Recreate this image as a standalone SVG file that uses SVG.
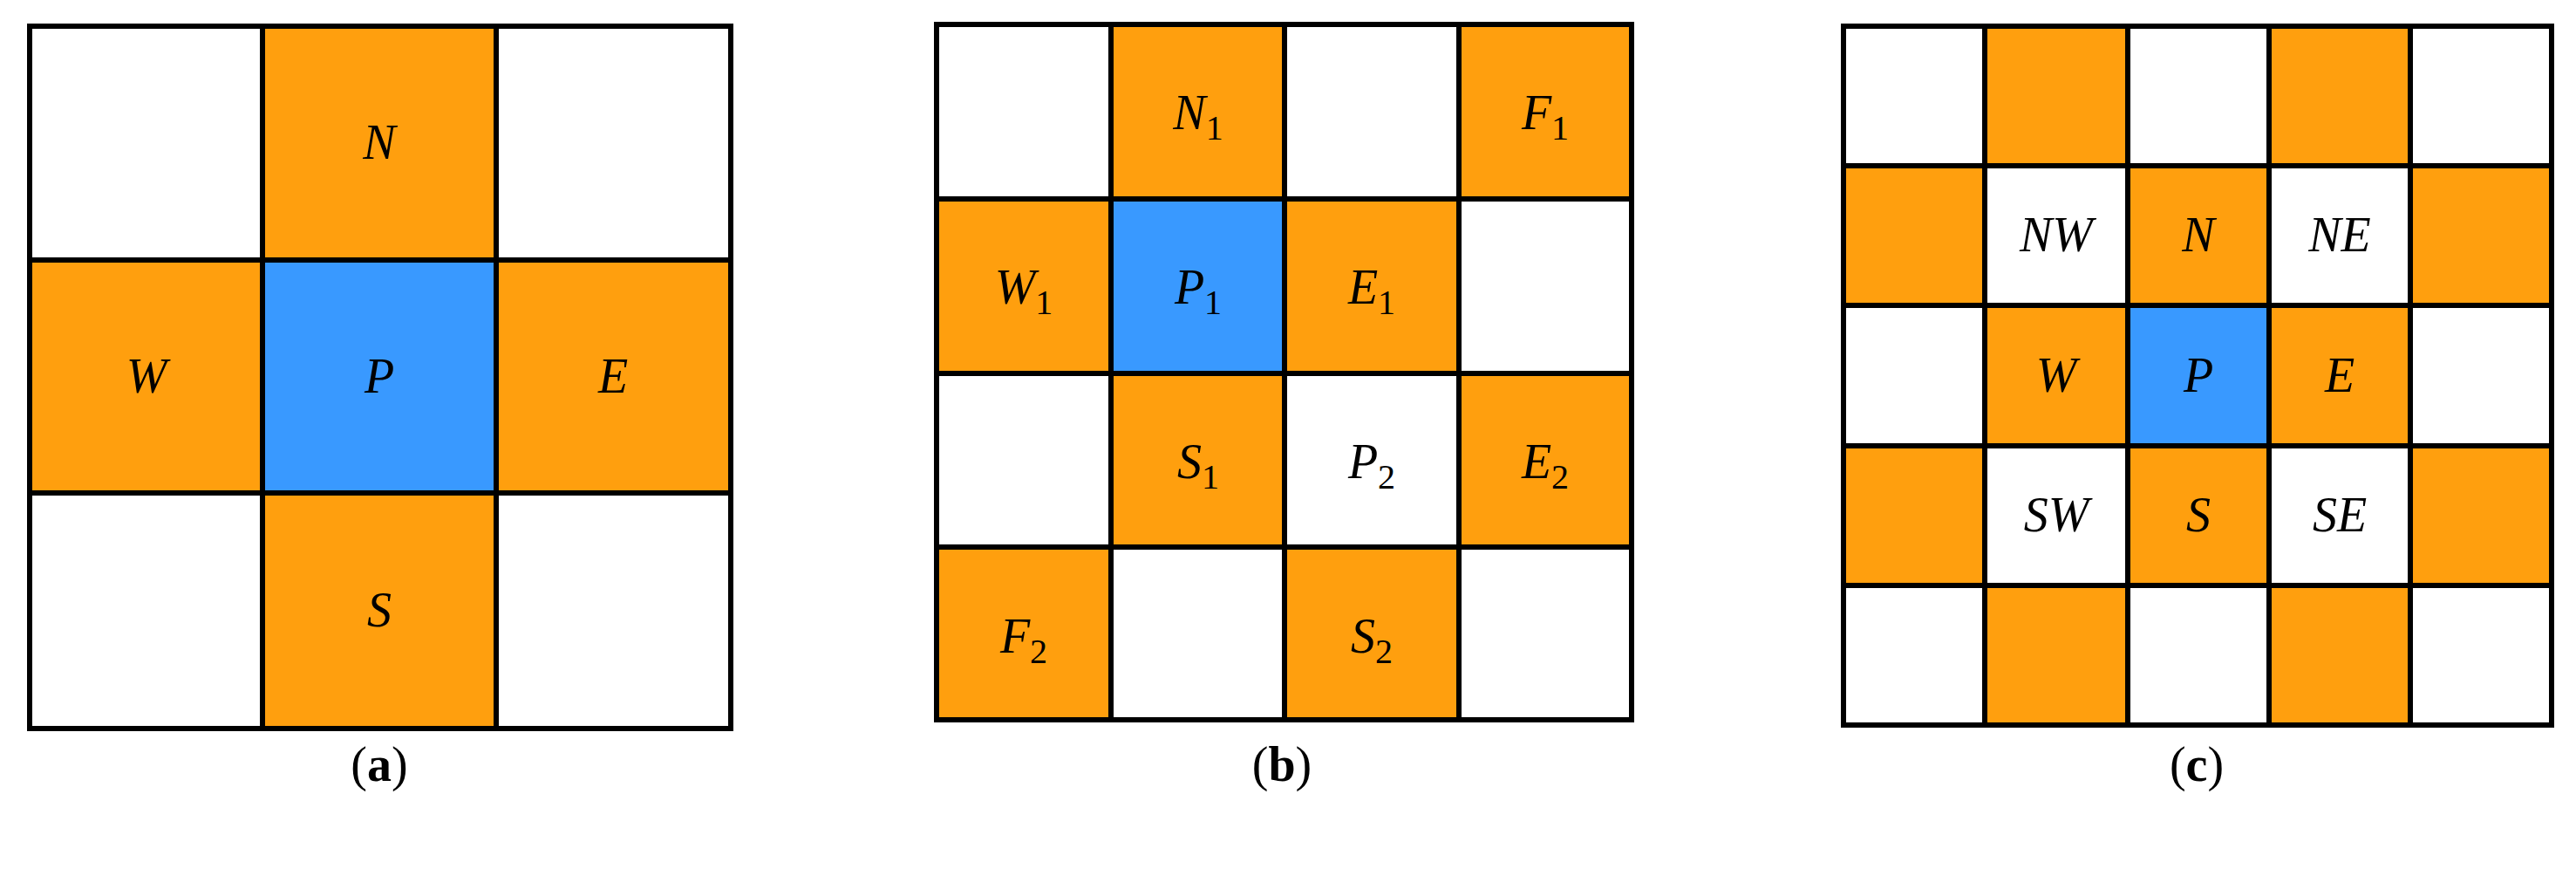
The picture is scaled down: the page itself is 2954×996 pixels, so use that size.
<svg xmlns="http://www.w3.org/2000/svg" width="2954" height="996" viewBox="0 0 2954 996">
<style>
.o{fill:#FF9F0E}.b{fill:#3999FF}.w{fill:#fff}
.g{fill:none;stroke:#000;stroke-width:6;stroke-linecap:square}
.t{font-family:"Liberation Serif",serif;font-style:italic;font-size:56px;text-anchor:middle;fill:#000}
.s{font-style:normal;font-size:40px}
.c{font-family:"Liberation Serif",serif;font-size:56px;text-anchor:middle;fill:#000}
</style>
<rect width="2954" height="996" fill="#fff"/>
<g id="grid-a">
<rect class="o" x="301" y="30" width="268" height="805"/>
<rect class="o" x="34" y="298" width="804" height="267"/>
<rect class="b" x="301" y="298" width="268" height="267"/>
<path class="g" d="M34 30H838V835H34Z M301 30V835 M569 30V835 M34 298H838 M34 565H838"/>
<text class="t" x="435" y="182">N</text>
<text class="t" x="168" y="450">W</text>
<text class="t" x="435" y="450">P</text>
<text class="t" x="703" y="450">E</text>
<text class="t" x="435" y="718">S</text>
<text class="c" x="435" y="895">(<tspan font-weight="bold">a</tspan>)</text>
</g>
<g id="grid-b">
<rect class="o" x="1274" y="28" width="199" height="200"/>
<rect class="o" x="1673" y="28" width="198" height="200"/>
<rect class="o" x="1074" y="228" width="200" height="200"/>
<rect class="b" x="1274" y="228" width="199" height="200"/>
<rect class="o" x="1473" y="228" width="200" height="200"/>
<rect class="o" x="1274" y="428" width="199" height="199"/>
<rect class="o" x="1673" y="428" width="198" height="199"/>
<rect class="o" x="1074" y="627" width="200" height="198"/>
<rect class="o" x="1473" y="627" width="200" height="198"/>
<path class="g" d="M1074 28H1871V825H1074Z M1274 28V825 M1473 28V825 M1673 28V825 M1074 228H1871 M1074 428H1871 M1074 627H1871"/>
<text class="t" x="1374" y="148">N<tspan class="s" dy="12">1</tspan></text>
<text class="t" x="1772" y="148">F<tspan class="s" dy="12">1</tspan></text>
<text class="t" x="1174" y="348">W<tspan class="s" dy="12">1</tspan></text>
<text class="t" x="1374" y="348">P<tspan class="s" dy="12">1</tspan></text>
<text class="t" x="1573" y="348">E<tspan class="s" dy="12">1</tspan></text>
<text class="t" x="1374" y="548">S<tspan class="s" dy="12">1</tspan></text>
<text class="t" x="1573" y="548">P<tspan class="s" dy="12">2</tspan></text>
<text class="t" x="1772" y="548">E<tspan class="s" dy="12">2</tspan></text>
<text class="t" x="1174" y="748">F<tspan class="s" dy="12">2</tspan></text>
<text class="t" x="1573" y="748">S<tspan class="s" dy="12">2</tspan></text>
<text class="c" x="1470" y="895">(<tspan font-weight="bold">b</tspan>)</text>
</g>
<g id="grid-c">
<rect class="o" x="2276" y="30" width="164" height="160"/>
<rect class="o" x="2602" y="30" width="162" height="160"/>
<rect class="o" x="2114" y="190" width="162" height="160"/>
<rect class="o" x="2440" y="190" width="162" height="160"/>
<rect class="o" x="2764" y="190" width="162" height="160"/>
<rect class="o" x="2276" y="350" width="164" height="161"/>
<rect class="b" x="2440" y="350" width="162" height="161"/>
<rect class="o" x="2602" y="350" width="162" height="161"/>
<rect class="o" x="2114" y="511" width="162" height="160"/>
<rect class="o" x="2440" y="511" width="162" height="160"/>
<rect class="o" x="2764" y="511" width="162" height="160"/>
<rect class="o" x="2276" y="671" width="164" height="160"/>
<rect class="o" x="2602" y="671" width="162" height="160"/>
<path class="g" d="M2114 30H2926V831H2114Z M2276 30V831 M2440 30V831 M2602 30V831 M2764 30V831 M2114 190H2926 M2114 350H2926 M2114 511H2926 M2114 671H2926"/>
<text class="t" x="2358" y="288">NW</text>
<text class="t" x="2521" y="288">N</text>
<text class="t" x="2683" y="288">NE</text>
<text class="t" x="2358" y="449">W</text>
<text class="t" x="2521" y="449">P</text>
<text class="t" x="2683" y="449">E</text>
<text class="t" x="2358" y="609">SW</text>
<text class="t" x="2521" y="609">S</text>
<text class="t" x="2683" y="609">SE</text>
<text class="c" x="2519" y="895">(<tspan font-weight="bold">c</tspan>)</text>
</g>
</svg>
